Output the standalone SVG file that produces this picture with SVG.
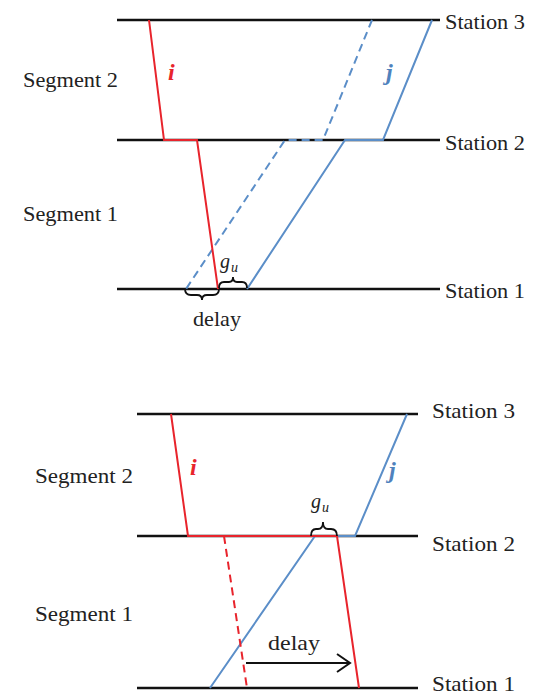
<svg xmlns="http://www.w3.org/2000/svg" width="533" height="695" viewBox="0 0 533 695" font-family="Liberation Serif, DejaVu Serif, Times New Roman, serif">
<style>
.st{stroke:#111;stroke-width:2.5;fill:none}
.r{stroke:#e8242c;stroke-width:2;fill:none}
.b{stroke:#5b8ec8;stroke-width:2;fill:none}
.d{stroke-dasharray:8,5}
.br{stroke:#111;stroke-width:1.8;fill:none}
.t{font-size:22px;fill:#222}
.lab{font-size:24px;font-style:italic;font-weight:bold}
.m{font-style:italic;fill:#222}
</style>
<rect width="533" height="695" fill="#fff"/>

<g id="top">
  <g id="top-stations">
    <line class="st" x1="117" y1="20" x2="440" y2="20"/>
    <line class="st" x1="117" y1="140" x2="440" y2="140"/>
    <line class="st" x1="117" y1="289" x2="440" y2="289"/>
    <text class="t" x="445" y="29" textLength="80" lengthAdjust="spacingAndGlyphs">Station 3</text>
    <text class="t" x="445" y="150" textLength="80" lengthAdjust="spacingAndGlyphs">Station 2</text>
    <text class="t" x="445" y="298" textLength="80" lengthAdjust="spacingAndGlyphs">Station 1</text>
    <text class="t" x="23" y="87" textLength="95" lengthAdjust="spacingAndGlyphs">Segment 2</text>
    <text class="t" x="23" y="221" textLength="95" lengthAdjust="spacingAndGlyphs">Segment 1</text>
  </g>
  <g id="top-trains">
    <polyline class="b d" points="372,20 323,140 285,140 186,289"/>
    <polyline class="b" points="432,20 383,140 345,140 247,289"/>
    <polyline class="r" points="149,20 164,140 197,140 218,289"/>
  </g>
  <g id="top-labels">
    <text class="lab" x="168" y="80" fill="#e8242c">i</text>
    <text class="lab" x="386" y="80" fill="#4f82bd">j</text>
    <path class="br" d="M219,288 Q219,282 224,282 L229,282 Q233,282 233,277 Q233,282 237,282 L242,282 Q247,282 247,288"/>
    <text class="m" x="220" y="268" font-size="20">g</text>
    <text class="m" x="231" y="272" font-size="14">u</text>
    <path class="br" d="M185,289 Q185,295 191,295 L197,295 Q202,295 202,300 Q202,295 207,295 L213,295 Q219,295 219,289"/>
    <text class="t" x="193" y="326" textLength="48" lengthAdjust="spacingAndGlyphs">delay</text>
  </g>
</g>

<g id="bottom">
  <g id="bottom-stations">
    <line class="st" x1="137" y1="414" x2="418" y2="414"/>
    <line class="st" x1="137" y1="536" x2="418" y2="536"/>
    <line class="st" x1="137" y1="688" x2="418" y2="688"/>
    <text class="t" x="432" y="418" textLength="83" lengthAdjust="spacingAndGlyphs">Station 3</text>
    <text class="t" x="432" y="551" textLength="83" lengthAdjust="spacingAndGlyphs">Station 2</text>
    <text class="t" x="432" y="691" textLength="83" lengthAdjust="spacingAndGlyphs">Station 1</text>
    <text class="t" x="35" y="483" textLength="98" lengthAdjust="spacingAndGlyphs">Segment 2</text>
    <text class="t" x="35" y="621" textLength="98" lengthAdjust="spacingAndGlyphs">Segment 1</text>
  </g>
  <g id="bottom-trains">
    <polyline class="b" points="407,414 355,536 315,536 210,688"/>
    <polyline class="r" points="171,414 188,536 337,536 359,688"/>
    <line class="r d" x1="224" y1="536" x2="247" y2="688"/>
  </g>
  <g id="bottom-labels">
    <text class="lab" x="190" y="475" fill="#e8242c">i</text>
    <text class="lab" x="389" y="478" fill="#4f82bd">j</text>
    <path class="br" d="M311,536 Q311,529 316,529 L318,529 Q323,529 323,522 Q323,529 328,529 L331,529 Q337,529 337,536"/>
    <text class="m" x="311" y="508" font-size="20">g</text>
    <text class="m" x="322" y="512" font-size="14">u</text>
    <text class="t" x="268" y="650" textLength="52" lengthAdjust="spacingAndGlyphs">delay</text>
  </g>
  <g id="connectors">
    <line x1="246" y1="663" x2="349" y2="663" stroke="#111" stroke-width="2"/>
    <polyline points="337,654 350,663 337,672" fill="none" stroke="#111" stroke-width="2"/>
  </g>
</g>
</svg>
